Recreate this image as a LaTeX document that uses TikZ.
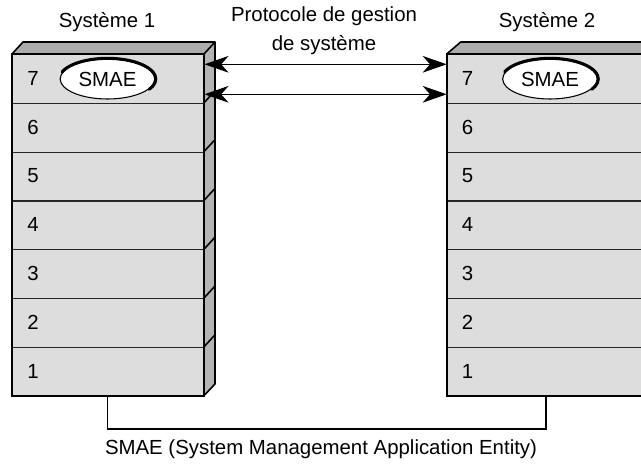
\documentclass[tikz,border=0pt]{standalone}
\usepackage{fontspec}
\setmainfont{Liberation Sans}
\usetikzlibrary{arrows.meta,shapes.geometric}
\definecolor{frontc}{HTML}{DDDDDD}
\definecolor{topc}{HTML}{ABABAB}
\definecolor{sidec}{HTML}{B4B4B4}
\tikzset{
  txt/.style={font=\fontsize{15.3}{18}\selectfont, inner sep=0pt},
  rowbox/.style={draw=black!85, line width=0.9pt, fill=frontc, minimum width=144pt, minimum height=36.6pt, inner sep=0pt, anchor=north west},
  num/.style={txt, anchor=west},
  smae/.style={ellipse, draw, fill=white, line width=0.8pt, minimum width=71pt, minimum height=30pt, inner sep=0pt, font=\fontsize{15.3}{18}\selectfont},
  outline/.style={line width=1.4pt, draw=black},
  face/.style={line width=1.2pt, draw=black, line join=round},
  arr/.style={line width=1pt, {Stealth[length=18pt,width=12.5pt,inset=5.5pt]}-{Stealth[length=18pt,width=12.5pt,inset=5.5pt]}},
  conn/.style={line width=0.9pt}
}
\begin{document}
\begin{tikzpicture}[x=0.75pt,y=-0.75pt]
\useasboundingbox (0,0) rectangle (641,463);
\clip (0,0) rectangle (641,463);
\fill[white] (0,0) rectangle (641,463);
% ---------- System 1 ----------
\fill[topc] (12,54) -- (23,42) -- (215,42) -- (204,54) -- cycle;
\fill[sidec] (204,54) -- (215,42) -- (215,384) -- (204,395.6) -- cycle;
\foreach \i [evaluate=\i as \yy using 54+(7-\i)*48.8] in {7,...,1} {
  \node[rowbox] (L\i) at (12,\yy) {};
  \node[num] (Ln\i) at (27,\yy+24.4) {\i};
}
\foreach \i [evaluate=\i as \yy using 54+(7-\i)*48.8] in {6,...,1} {
  \draw[face] (204,\yy) -- (215,\yy-12);
}
\draw[face] (12,54) -- (23,42) -- (215,42) -- (215,384) -- (204,395.6);
\draw[face] (215,42) -- (204,54);
\draw[outline] (12,54) rectangle (204,395.6);
% ---------- System 2 ----------
\fill[topc] (446.7,54) -- (460.7,42) -- (656,42) -- (642,54) -- cycle;
\foreach \i [evaluate=\i as \yy using 54+(7-\i)*48.8] in {7,...,1} {
  \node[rowbox, minimum width=146pt] (R\i) at (446.7,\yy) {};
  \node[num] (Rn\i) at (461.7,\yy+24.4) {\i};
}
\draw[face] (446.7,54) -- (460.7,42) -- (660,42);
\draw[outline] (660,54) -- (446.7,54) -- (446.7,395.6) -- (660,395.6);
% ---------- SMAE ellipses ----------
\node[smae] (e1) at (107.5,79) {SMAE};
\node[smae] (e2) at (550,79) {SMAE};
\foreach \e in {e1,e2} {
  \draw[line width=2.3pt, line cap=round] (\e.center) ++(160:36.2pt and 15.5pt) arc[start angle=160, end angle=-30, x radius=36.2pt, y radius=15.5pt];
}
% ---------- arrows ----------
\coordinate (a1l) at (204.5,64.3);
\coordinate (a1r) at (446.7,64.3);
\coordinate (a2l) at (204.5,94.3);
\coordinate (a2r) at (446.7,94.3);
\draw[arr] (a1l) -- (a1r);
\draw[arr] (a2l) -- (a2r);
% ---------- labels ----------
\node[txt] (t1) at (107,22) {Système 1};
\node[txt] (t2) at (547,22) {Système 2};
\node[txt, align=center] (tp) at (324,31) {Protocole de gestion\\[4pt]de système};
% ---------- bottom connector ----------
\coordinate (c1) at (107.3,395.6);
\coordinate (c2) at (546,395.6);
\coordinate (c3) at (107.3,429);
\draw[conn] (c1) -- (c3) -| (c2);
\node[txt] (bt) at (321,449) {SMAE (System Management Application Entity)};
\end{tikzpicture}
\end{document}
